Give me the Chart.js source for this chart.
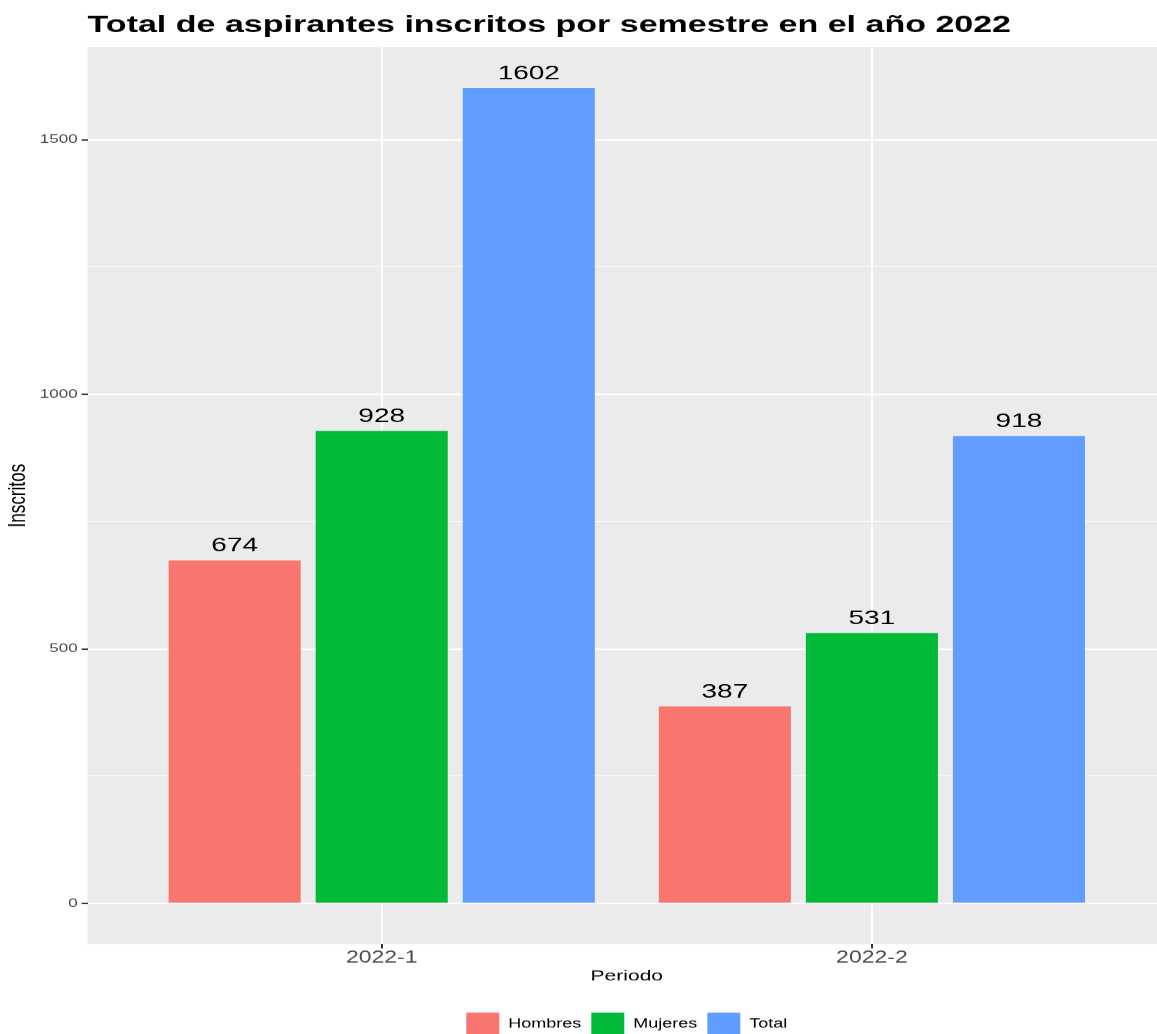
<!DOCTYPE html>
<html>
<head>
<meta charset="UTF-8">
<title>Aspirantes inscritos 2022</title>
<script src="https://cdn.jsdelivr.net/npm/chart.js@4.4.0/dist/chart.umd.min.js"></script>
<style>
  html, body { margin: 0; padding: 0; background: #ffffff; overflow: hidden; }
  #wrap { width: 1157px; height: 1034px; overflow: hidden; }
  /* the reference picture is squeezed vertically, so the chart is drawn taller and squeezed */
  #chart { transform: scaleY(0.714088); transform-origin: 0 0; }
</style>
</head>
<body>
<div id="wrap"><canvas id="chart" width="1166" height="1448"></canvas></div>
<script>
const titulo = 'Total de aspirantes inscritos por semestre en el año 2022';
const periodos = ['2022-1', '2022-2'];
const hombres = [674, 387];
const mujeres = [928, 531];
const total = [1602, 918];
const series = ['Hombres', 'Mujeres', 'Total'];
const colores = ['#F8766D', '#00BA38', '#619CFF'];
const yTicks = [0, 250, 500, 750, 1000, 1250, 1500];
const yLabels = [0, 500, 1000, 1500];

Chart.defaults.font.family = "'Liberation Sans', Arial, sans-serif";

// x position of each period is its index (1, 2) on a linear axis, like ggplot
const toPoints = vals => vals.map((v, i) => ({ x: i + 1, y: v }));

const fondo = {
    id: 'fondo',
    beforeDraw(chart) {
        const { ctx, chartArea } = chart;
        ctx.save();
        ctx.fillStyle = '#ffffff';
        ctx.fillRect(0, 0, chart.width, chart.height);
        ctx.fillStyle = '#EBEBEB';
        ctx.fillRect(chartArea.left, chartArea.top, chartArea.right - chartArea.left, chartArea.bottom - chartArea.top);
        ctx.restore();
    },
    afterDraw(chart) {
        const { ctx, chartArea } = chart;
        ctx.save();
        ctx.fillStyle = '#000000';
        ctx.font = "bold 34px 'Liberation Sans', Arial, sans-serif";
        ctx.textAlign = 'left';
        ctx.textBaseline = 'middle';
        ctx.fillText(titulo, chartArea.left, 36);
        ctx.restore();
    }
};

const etiquetas = {
    id: 'etiquetas',
    afterDatasetsDraw(chart) {
        const ctx = chart.ctx;
        ctx.save();
        ctx.fillStyle = '#000000';
        ctx.font = "28px 'Liberation Sans', Arial, sans-serif";
        ctx.textAlign = 'center';
        ctx.textBaseline = 'middle';
        chart.data.datasets.forEach((ds, d) => {
            chart.getDatasetMeta(d).data.forEach((bar, i) => {
                ctx.fillText(String(ds.data[i].y), bar.x, bar.y - 20);
            });
        });
        ctx.restore();
    }
};

let ctx = document.getElementById('chart').getContext('2d');
let chart = new Chart(ctx, {
    type: 'bar',
    data: {
        datasets: [
            { label: series[0], data: toPoints(hombres), backgroundColor: colores[0] },
            { label: series[1], data: toPoints(mujeres), backgroundColor: colores[1] },
            { label: series[2], data: toPoints(total), backgroundColor: colores[2] }
        ]
    },
    options: {
        responsive: false,
        animation: false,
        categoryPercentage: 0.9,
        barPercentage: 0.898,
        layout: { padding: { top: 66, left: 0, right: 0, bottom: -13 } },
        plugins: {
            legend: {
                position: 'bottom',
                fullSize: false,
                labels: {
                    boxWidth: 33,
                    boxHeight: 33,
                    padding: 10,
                    color: '#000000',
                    font: { size: 18 }
                }
            },
            tooltip: { enabled: false }
        },
        scales: {
            x: {
                type: 'linear',
                min: 0.4,
                max: 2.6,
                offset: false,
                afterBuildTicks: scale => { scale.ticks = periodos.map((p, i) => ({ value: i + 1 })); },
                ticks: {
                    callback: v => periodos[v - 1],
                    color: '#4D4D4D',
                    font: { size: 23 },
                    padding: 0,
                    maxRotation: 0
                },
                grid: {
                    offset: false,
                    color: '#ffffff',
                    lineWidth: 2,
                    tickLength: 6,
                    tickColor: '#333333',
                    tickWidth: 2
                },
                border: { display: false },
                title: {
                    display: true,
                    text: 'Periodo',
                    color: '#000000',
                    font: { size: 21 },
                    padding: { top: -1, bottom: 28 }
                }
            },
            y: {
                min: -80.1,
                max: 1682.1,
                afterBuildTicks: scale => { scale.ticks = yTicks.map(v => ({ value: v })); },
                ticks: {
                    callback: v => yLabels.includes(v) ? v : '',
                    color: '#4D4D4D',
                    font: { size: 17 },
                    padding: 4
                },
                grid: {
                    color: '#ffffff',
                    lineWidth: c => yLabels.includes(c.tick.value) ? 2.2 : 1.1,
                    tickLength: 6,
                    tickColor: c => yLabels.includes(c.tick.value) ? '#333333' : 'rgba(0,0,0,0)',
                    tickWidth: 2
                },
                border: { display: false },
                title: {
                    display: true,
                    text: 'Inscritos',
                    color: '#000000',
                    font: { size: 24 },
                    padding: { top: 4, bottom: 3 }
                }
            }
        }
    },
    plugins: [fondo, etiquetas]
});
</script>
</body>
</html>
